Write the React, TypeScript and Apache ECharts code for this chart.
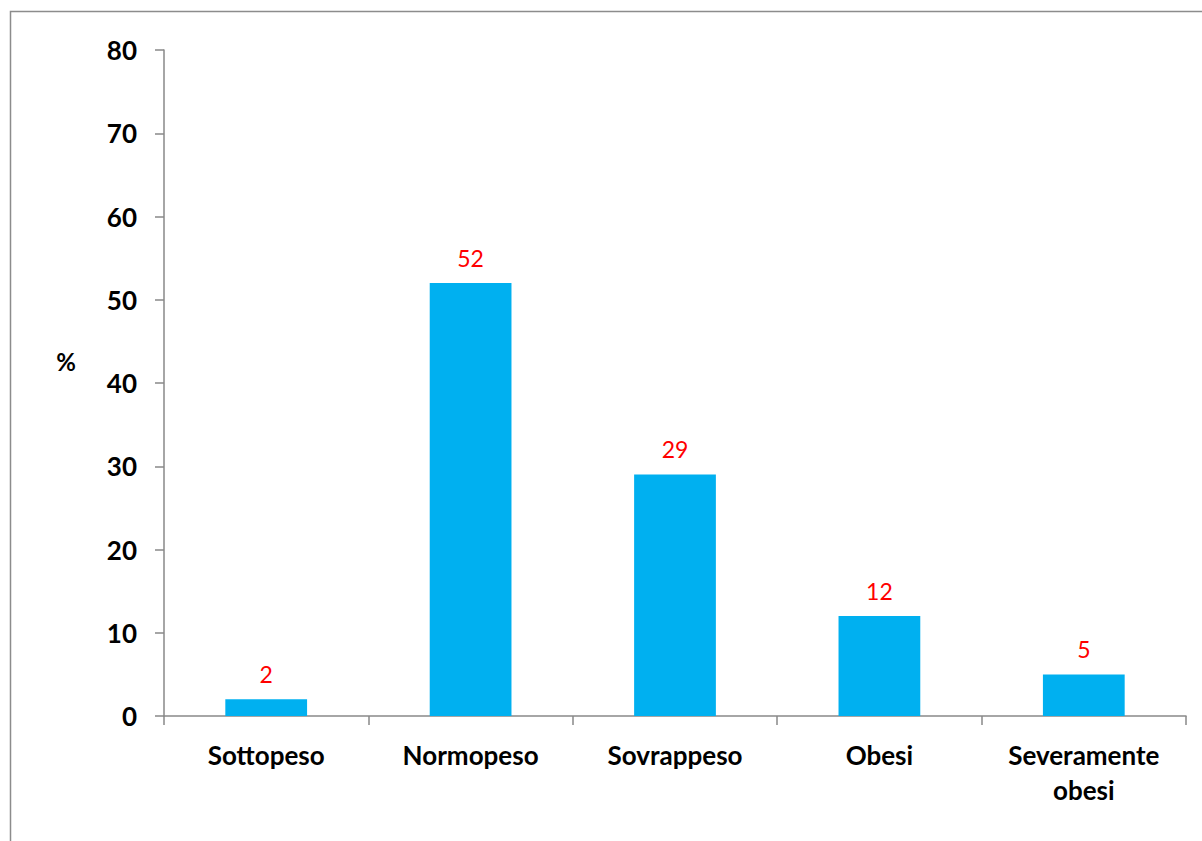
import React, { useEffect, useRef } from "react";
import * as echarts from "echarts";

const categories = ["Sottopeso", "Normopeso", "Sovrappeso", "Obesi", "Severamente\nobesi"];
const values = [2, 52, 29, 12, 5];
const yTicks = { min: 0, max: 80, interval: 10 };

export default function App() {
  const ref = useRef<HTMLDivElement>(null);
  useEffect(() => {
    const chart = echarts.init(ref.current!, undefined, { renderer: "svg" });
    const font = "Lato, 'Open Sans', sans-serif";
    chart.setOption({
      animation: false,
      backgroundColor: "#ffffff",
      grid: { left: 164, right: 16, top: 50, bottom: 125 },
      graphic: [
        {
          type: "rect",
          shape: { x: 10.5, y: 11.5, width: 1400, height: 1000 },
          style: { fill: "none", stroke: "#8c8c8c", lineWidth: 1.5 },
          silent: true,
          z: -1,
        },
      ],
      xAxis: {
        type: "category",
        data: categories,
        axisLine: { lineStyle: { color: "#898989", width: 1.5 } },
        axisTick: { show: true, length: 9, lineStyle: { color: "#898989", width: 1.5 } },
        axisLabel: {
          color: "#000",
          fontFamily: font,
          fontWeight: "bold",
          fontSize: 26,
          lineHeight: 35,
          margin: 21,
        },
      },
      yAxis: {
        type: "value",
        min: yTicks.min,
        max: yTicks.max,
        interval: yTicks.interval,
        name: "%",
        nameLocation: "middle",
        nameRotate: 0,
        nameGap: 88,
        nameTextStyle: {
          color: "#000",
          fontFamily: font,
          fontWeight: "bold",
          fontSize: 24,
          verticalAlign: "bottom",
          padding: [0, 0, 10, 0],
        },
        splitLine: { show: false },
        axisLine: { show: true, lineStyle: { color: "#898989", width: 1.5 } },
        axisTick: { show: true, length: 9, lineStyle: { color: "#898989", width: 1.5 } },
        axisLabel: {
          color: "#000",
          fontFamily: font,
          fontWeight: "bold",
          fontSize: 26,
          margin: 27,
        },
      },
      series: [
        {
          type: "bar",
          data: values,
          barWidth: "40%",
          itemStyle: { color: "#00B0F0" },
          label: {
            show: true,
            position: "top",
            distance: 14,
            color: "#FF0000",
            fontFamily: font,
            fontSize: 23,
          },
        },
      ],
    });
    return () => chart.dispose();
  }, []);
  return (
    <div
      ref={ref}
      style={{ position: "fixed", left: 0, top: 0, width: 1202, height: 841 }}
    />
  );
}
